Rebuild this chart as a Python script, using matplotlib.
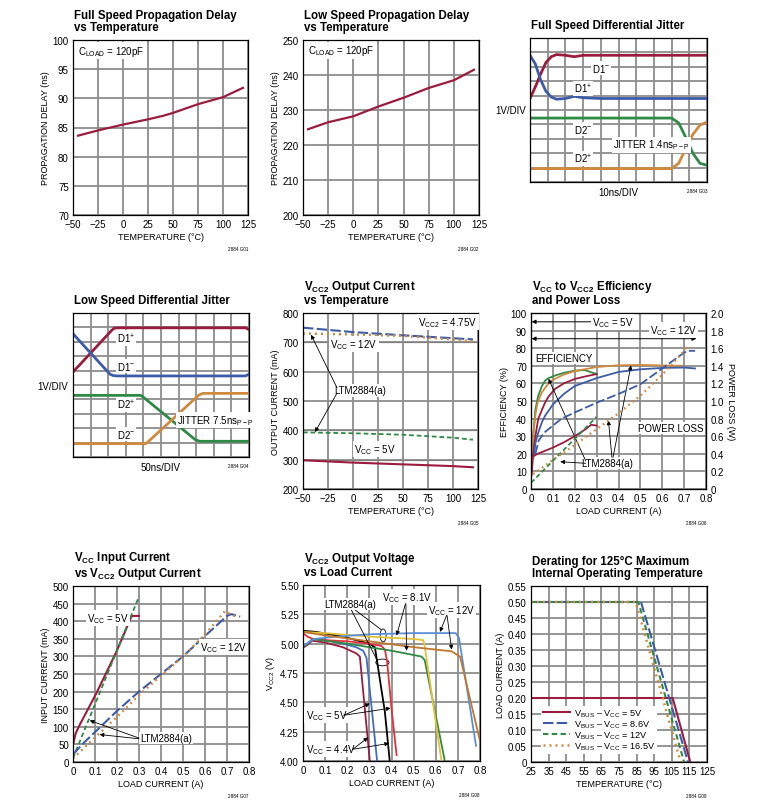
import matplotlib
matplotlib.use('Agg')
import matplotlib.pyplot as plt
from matplotlib import font_manager
from matplotlib.patches import Ellipse
from matplotlib.ticker import FuncFormatter, MultipleLocator

# fuentes: narrow si existe
nombres = {f.name for f in font_manager.fontManager.ttflist}
FONT = 'Liberation Sans Narrow' if 'Liberation Sans Narrow' in nombres else 'Liberation Sans'
TSIZE = 9.5 if FONT == 'Liberation Sans Narrow' else 8.3
plt.rcParams['font.family'] = [FONT, 'DejaVu Sans']
plt.rcParams['mathtext.fontset'] = 'custom'
plt.rcParams['mathtext.rm'] = FONT

# ---------------- datos ----------------
# G01 full speed propagation delay
temp_g01 = [-45, -25, 0, 25, 40, 50, 75, 100, 120]
delay_g01 = [83.6, 84.5, 85.5, 86.4, 87.0, 87.5, 89.0, 90.2, 91.8]

# G02 low speed propagation delay
temp_g02 = [-45, -25, 0, 25, 50, 75, 100, 120]
delay_g02 = [224.5, 226.5, 228.2, 231.0, 233.5, 236.3, 238.5, 241.5]

# G03 full speed jitter (divisiones)
t_g03_d1 = [0, 0.3, 0.6, 0.9, 1.2, 1.5, 2.0, 2.5, 3.0, 4.0, 10]
d1p_g03 = [5.8, 6.6, 7.5, 8.3, 8.7, 8.85, 8.8, 8.7, 8.8, 8.8, 8.8]
d1m_g03 = [8.8, 8.2, 7.1, 6.3, 5.9, 5.75, 5.8, 5.95, 5.85, 5.8, 5.8]
t_g03_d2 = [0, 8.0, 8.4, 8.8, 9.2, 9.6, 10]
d2m_g03 = [4.44, 4.44, 4.1, 3.1, 2.0, 1.3, 1.16]
d2p_g03 = [0.93, 0.93, 1.3, 2.3, 3.3, 3.95, 4.17]

# G04 low speed jitter (divisiones)
t_g04_d1p = [0, 2.2, 2.35, 2.6, 9.8, 10]
d1p_g04 = [5.9, 8.8, 8.95, 8.97, 8.97, 8.85]
t_g04_d1m = [0, 2.1, 2.3, 2.5, 9.8, 10]
d1m_g04 = [8.56, 5.75, 5.65, 5.63, 5.63, 5.75]
t_g04_d2p = [0, 3.85, 4.0, 6.95, 7.2, 10]
d2p_g04 = [4.28, 4.28, 4.15, 1.2, 1.09, 1.09]
t_g04_d2m = [0, 4.15, 4.35, 7.15, 7.4, 10]
d2m_g04 = [0.93, 0.93, 1.15, 4.3, 4.42, 4.42]

# G05 output current vs temperature
temp_g05 = [-50, 0, 50, 100, 120]
i12_g05 = [750, 735, 724, 714, 710]
i12a_g05 = [730, 727, 722, 710, 703]
i5a_g05 = [393, 390, 385, 375, 368]
i5_g05 = [298, 290, 284, 278, 274]

# G06 efficiency / power loss
x_eff_g5a = [0.003, 0.01, 0.02, 0.033, 0.05, 0.064, 0.08, 0.109, 0.15, 0.2, 0.245, 0.3]
eff_g5a = [10, 30, 45, 53, 58.5, 61.5, 63, 64.4, 66, 67.2, 67.6, 65.3]
x_eff_g12a = [0.003, 0.01, 0.02, 0.03, 0.05, 0.08, 0.1, 0.15, 0.2, 0.3, 0.4, 0.5, 0.6, 0.69]
eff_g12a = [10, 30, 42, 49, 55, 60, 62, 65, 67, 69.3, 70.3, 70.5, 70.2, 70]
x_eff_g5 = [0.003, 0.01, 0.02, 0.033, 0.05, 0.064, 0.08, 0.109, 0.15, 0.2, 0.25, 0.3]
eff_g5 = [8, 20, 30, 39.8, 45, 49, 52.5, 56.8, 60, 62.5, 64, 65.3]
x_eff_g12 = [0.015, 0.02, 0.033, 0.05, 0.064, 0.1, 0.15, 0.2, 0.3, 0.4, 0.5, 0.6, 0.7, 0.75]
eff_g12 = [20, 26, 32, 38, 41.5, 48, 54, 58.5, 63, 66.5, 68, 68.8, 69, 68.5]
x_pl_5 = [0, 0.005, 0.01, 0.03, 0.06, 0.1, 0.15, 0.2, 0.25, 0.275, 0.3]
pl_5 = [0.2, 0.34, 0.37, 0.4, 0.43, 0.47, 0.53, 0.6, 0.68, 0.73, 0.72]
x_pl_5a = [0, 0.1, 0.2, 0.3]
pl_5a = [0.07, 0.32, 0.57, 0.82]
x_pl_12 = [0.02, 0.035, 0.06, 0.1, 0.14, 0.2, 0.3, 0.4, 0.5, 0.6, 0.65, 0.7, 0.72, 0.75]
pl_12 = [0.4, 0.55, 0.64, 0.72, 0.8, 0.87, 0.98, 1.08, 1.19, 1.37, 1.46, 1.55, 1.57, 1.57]
x_pl_12a = [0.01, 0.1, 0.2, 0.3, 0.4, 0.5, 0.6, 0.65, 0.7, 0.71]
pl_12a = [0.17, 0.33, 0.5, 0.68, 0.86, 1.06, 1.3, 1.43, 1.57, 1.61]

# G07 input current vs output current
x_in_5 = [0, 0.012, 0.03, 0.106, 0.197, 0.235, 0.265, 0.273, 0.3]
in_5 = [49, 81, 105, 195, 313, 368, 413, 415, 415]
x_in_5a = [0, 0.3]
in_5a = [11, 470]
x_in_12 = [0, 0.05, 0.1, 0.2, 0.3, 0.4, 0.5, 0.6, 0.7, 0.72, 0.76]
in_12 = [22, 55, 85, 145, 200, 250, 300, 358, 415, 420, 413]
x_in_12a = [0, 0.1, 0.2, 0.3, 0.4, 0.5, 0.6, 0.69, 0.74]
in_12a = [10, 70, 128, 190, 245, 300, 362, 428, 413]

# G08 output voltage vs load current
x_v44 = [0, 0.02, 0.042, 0.1, 0.18, 0.241, 0.257, 0.302]
v44 = [4.965, 4.99, 5.025, 5.01, 4.97, 4.917, 4.89, 4.0]
x_v5 = [0, 0.02, 0.045, 0.1, 0.18, 0.24, 0.272, 0.287, 0.335]
v5 = [4.98, 5.0, 5.04, 5.03, 5.0, 4.97, 4.94, 4.88, 4.0]
x_v44a = [0, 0.06, 0.18, 0.3, 0.325, 0.347, 0.37, 0.392]
v44a = [5.11, 5.1, 5.06, 5.0, 4.97, 4.7, 4.42, 4.0]
x_v5a = [0, 0.02, 0.045, 0.1, 0.2, 0.3, 0.355, 0.37, 0.38, 0.4, 0.423]
v5a = [5.09, 5.06, 5.04, 5.03, 5.02, 5.0, 4.98, 4.95, 4.85, 4.45, 4.05]
x_v81 = [0, 0.02, 0.045, 0.2, 0.4, 0.536, 0.55, 0.641]
v81 = [4.97, 5.0, 5.04, 5.0, 4.94, 4.89, 4.86, 4.0]
x_v81a = [0, 0.1, 0.3, 0.5, 0.543, 0.55, 0.626]
v81a = [5.1, 5.09, 5.06, 5.04, 5.03, 4.98, 4.0]
x_v12a = [0, 0.05, 0.15, 0.3, 0.5, 0.69, 0.705, 0.782]
v12a = [4.98, 5.04, 5.06, 5.08, 5.09, 5.09, 5.05, 4.13]
x_v12 = [0, 0.1, 0.3, 0.5, 0.671, 0.71, 0.8]
v12 = [5.1, 5.07, 5.02, 4.97, 4.935, 4.89, 4.17]

# G09 derating
t_d5 = [25, 105.5, 115.5]
i_d5 = [0.2, 0.2, 0.0]
t_d86 = [25, 87.5, 114.2]
i_d86 = [0.5, 0.5, 0.0]
t_d12 = [25, 86.0, 112.0]
i_d12 = [0.5, 0.5, 0.0]
t_d165 = [25, 84.5, 110.0]
i_d165 = [0.5, 0.5, 0.0]
temp_ticks_g09 = [25, 35, 45, 55, 65, 75, 85, 95, 105, 115, 125]

MAROON = '#9c1c3e'
BLUE = '#3d5ca8'
GREEN = '#2f8a45'
ORANGE = '#d08a3e'
GRID = '#8c8c8c'
LONG = (0, (5, 1.6))
DASH = (0, (2.6, 1.6))
DOT = (0, (0.8, 1.6))

W, H = 781, 803
fig = plt.figure(figsize=(W / 100, H / 100), dpi=100)


def eje(x1, y1, x2, y2):
    ax = fig.add_axes([x1 / W, 1 - y2 / H, (x2 - x1) / W, (y2 - y1) / H])
    ax.grid(True, color=GRID, lw=1.3)
    ax.set_axisbelow(True)
    ax.tick_params(length=0, labelsize=7, pad=3)
    for s in ax.spines.values():
        s.set_linewidth(0.9)
    return ax


def titulo(ax, txt):
    ax.annotate(txt, xy=(0, 1), xycoords='axes fraction', xytext=(1, 7),
                textcoords='offset points', ha='left', va='baseline',
                fontsize=TSIZE, fontweight='bold', linespacing=1.05)


def nota(ax, txt):
    ax.annotate(txt, xy=(1, 0), xycoords='axes fraction', xytext=(0, -22),
                textcoords='offset points', ha='right', va='top', fontsize=3.3)


def etiqueta(ax, x, y, txt, **kw):
    ax.text(x, y, txt, fontsize=7, ha='center', va='center',
            bbox=dict(facecolor='white', edgecolor='none', pad=0.8), **kw)


def flecha(ax, xy, xytext):
    ax.annotate('', xy=xy, xytext=xytext,
                arrowprops=dict(arrowstyle='-|>', color='black', lw=0.6,
                                mutation_scale=6, shrinkA=0, shrinkB=0))


cero = lambda fmt: FuncFormatter(lambda v, p: '0' if abs(v) < 1e-9 else fmt % v)
CC = r'V$_{\mathregular{CC}}$'

# ---- G01 ----
ax = eje(73, 41, 248, 216)
ax.plot(temp_g01, delay_g01, color=MAROON, lw=1.6)
ax.set_xlim(-50, 125); ax.set_ylim(70, 100)
ax.xaxis.set_major_locator(MultipleLocator(25)); ax.yaxis.set_major_locator(MultipleLocator(5))
ax.set_xlabel('TEMPERATURE (°C)', fontsize=6.5, labelpad=2)
ax.set_ylabel('PROPAGATION DELAY (ns)', fontsize=6.5, labelpad=2)
ax.text(-45, 98.2, r'C$_{\mathregular{LOAD}}$ = 120pF', fontsize=7, va='center',
        bbox=dict(facecolor='white', edgecolor='none', pad=1))
titulo(ax, 'Full Speed Propagation Delay\nvs Temperature')
nota(ax, '2884 G01')

# ---- G02 ----
ax = eje(303, 41, 479, 216)
ax.plot(temp_g02, delay_g02, color=MAROON, lw=1.6)
ax.set_xlim(-50, 125); ax.set_ylim(200, 250)
ax.xaxis.set_major_locator(MultipleLocator(25)); ax.yaxis.set_major_locator(MultipleLocator(10))
ax.set_xlabel('TEMPERATURE (°C)', fontsize=6.5, labelpad=2)
ax.set_ylabel('PROPAGATION DELAY (ns)', fontsize=6.5, labelpad=2)
ax.text(-45, 247, r'C$_{\mathregular{LOAD}}$ = 120pF', fontsize=7, va='center',
        bbox=dict(facecolor='white', edgecolor='none', pad=1))
titulo(ax, 'Low Speed Propagation Delay\nvs Temperature')
nota(ax, '2884 G02')


def osc(x1, y1, x2, y2):
    ax = eje(x1, y1, x2, y2)
    ax.set_xlim(0, 10); ax.set_ylim(0, 10)
    ax.set_xticks(range(11)); ax.set_yticks(range(11))
    ax.set_xticklabels([]); ax.set_yticklabels([])
    return ax

# ---- G03 ----
ax = osc(530, 39, 707, 183)
ax.plot(t_g03_d1, d1p_g03, color=MAROON, lw=2)
ax.plot(t_g03_d1, d1m_g03, color=BLUE, lw=2)
ax.plot(t_g03_d2, d2m_g03, color=GREEN, lw=2)
ax.plot(t_g03_d2, d2p_g03, color=ORANGE, lw=2)
etiqueta(ax, 4, 7.9, r'D1$^{-}$')
etiqueta(ax, 3, 6.5, r'D1$^{+}$')
etiqueta(ax, 3, 3.7, r'D2$^{-}$')
etiqueta(ax, 3, 1.65, r'D2$^{+}$')
etiqueta(ax, 6.85, 2.6, r'JITTER 1.4ns$_{\mathregular{P-P}}$')
ax.text(-0.02, 0.5, '1V/DIV', transform=ax.transAxes, fontsize=7, ha='right', va='center')
ax.text(0.5, -0.07, '10ns/DIV', transform=ax.transAxes, fontsize=7, ha='center', va='center')
titulo(ax, 'Full Speed Differential Jitter')
ax.annotate('2884 G03', xy=(1, 0), xycoords='axes fraction', xytext=(0, -4),
            textcoords='offset points', ha='right', va='top', fontsize=3.3)

# ---- G04 ----
ax = osc(73, 314, 249, 458)
ax.plot(t_g04_d1p, d1p_g04, color=MAROON, lw=2)
ax.plot(t_g04_d1m, d1m_g04, color=BLUE, lw=2)
ax.plot(t_g04_d2p, d2p_g04, color=GREEN, lw=2)
ax.plot(t_g04_d2m, d2m_g04, color=ORANGE, lw=2)
etiqueta(ax, 3, 8.26, r'D1$^{+}$')
etiqueta(ax, 3, 6.32, r'D1$^{-}$')
etiqueta(ax, 3, 3.63, r'D2$^{+}$')
etiqueta(ax, 3, 1.6, r'D2$^{-}$')
etiqueta(ax, 8.1, 2.55, r'JITTER 7.5ns$_{\mathregular{P-P}}$')
ax.text(-0.03, 0.49, '1V/DIV', transform=ax.transAxes, fontsize=7, ha='right', va='center')
ax.text(0.5, -0.07, '50ns/DIV', transform=ax.transAxes, fontsize=7, ha='center', va='center')
titulo(ax, 'Low Speed Differential Jitter')
ax.annotate('2884 G04', xy=(1, 0), xycoords='axes fraction', xytext=(0, -4),
            textcoords='offset points', ha='right', va='top', fontsize=3.3)

# ---- G05 ----
ax = eje(303, 314, 478, 490)
for yv in (700, 400, 300):
    ax.axhline(yv, color='black', lw=0.8, zorder=0.5)
ax.plot(temp_g05, i12_g05, color=BLUE, lw=1.5, ls=LONG)
ax.plot(temp_g05, i12a_g05, color=ORANGE, lw=1.8, ls=DOT)
ax.plot(temp_g05, i5a_g05, color=GREEN, lw=1.3, ls=DASH)
ax.plot(temp_g05, i5_g05, color=MAROON, lw=1.5)
ax.set_xlim(-50, 125); ax.set_ylim(200, 800)
ax.xaxis.set_major_locator(MultipleLocator(25)); ax.yaxis.set_major_locator(MultipleLocator(100))
ax.set_xlabel('TEMPERATURE (°C)', fontsize=6.5, labelpad=2)
ax.set_ylabel('OUTPUT CURRENT (mA)', fontsize=6.5, labelpad=2)
etiqueta(ax, 95, 769, r'V$_{\mathregular{CC2}}$ = 4.75V')
etiqueta(ax, 1, 695, CC + ' = 12V')
etiqueta(ax, 22, 337, CC + ' = 5V')
etiqueta(ax, 7, 536, 'LTM2884(a)')
flecha(ax, (-42, 726), (-16, 545))
flecha(ax, (-38, 394), (-16, 527))
titulo(ax, r'V$_{\mathregular{CC2}}$ Output Current' + '\nvs Temperature')
nota(ax, '2884 G05')

# ---- G06 ----
ax = eje(531, 314, 706, 490)
ax2 = ax.twinx()
ax.plot(x_eff_g5a, eff_g5a, color=GREEN, lw=1.3)
ax.plot(x_eff_g12a, eff_g12a, color=ORANGE, lw=1.3)
ax.plot(x_eff_g5, eff_g5, color=MAROON, lw=1.3)
ax.plot(x_eff_g12, eff_g12, color=BLUE, lw=1.3)
ax2.plot(x_pl_5, pl_5, color=MAROON, lw=1.3)
ax2.plot(x_pl_5a, pl_5a, color=GREEN, lw=1.3, ls=DASH)
ax2.plot(x_pl_12, pl_12, color=BLUE, lw=1.3, ls=LONG)
ax2.plot(x_pl_12a, pl_12a, color=ORANGE, lw=1.6, ls=DOT)
ax.set_xlim(0, 0.8); ax.set_ylim(0, 100)
ax2.set_ylim(0, 2.0)
ax.xaxis.set_major_locator(MultipleLocator(0.1)); ax.yaxis.set_major_locator(MultipleLocator(10))
ax2.yaxis.set_major_locator(MultipleLocator(0.2))
ax.xaxis.set_major_formatter(cero('%.1f'))
ax2.yaxis.set_major_formatter(cero('%.1f'))
ax2.tick_params(length=0, labelsize=7, pad=3)
ax.set_xlabel('LOAD CURRENT (A)', fontsize=6.5, labelpad=2)
ax.set_ylabel('EFFICIENCY (%)', fontsize=6.5, labelpad=1)
ax2.set_ylabel('POWER LOSS (W)', fontsize=6.5, rotation=270, labelpad=8)
ax.annotate('', xy=(0.003, 95), xytext=(0.3, 95),
            arrowprops=dict(arrowstyle='<|-|>', color='black', lw=0.7, mutation_scale=6,
                            shrinkA=0, shrinkB=0))
ax.annotate('', xy=(0.003, 85.4), xytext=(0.756, 85.4),
            arrowprops=dict(arrowstyle='<|-|>', color='black', lw=0.7, mutation_scale=6,
                            shrinkA=0, shrinkB=0))
etiqueta(ax, 0.376, 95, CC + ' = 5V')
etiqueta(ax, 0.65, 90.1, CC + ' = 12V')
etiqueta(ax, 0.15, 74.4, 'EFFICIENCY')
etiqueta(ax, 0.638, 34.5, 'POWER LOSS')
etiqueta(ax, 0.349, 14.6, 'LTM2884(a)')
flecha(ax, (0.08, 62.6), (0.25, 16))
flecha(ax, (0.134, 15.5), (0.25, 14.6))
flecha(ax, (0.354, 38.9), (0.37, 18))
flecha(ax, (0.457, 70.2), (0.375, 18))
titulo(ax, CC + r' to V$_{\mathregular{CC2}}$ Efficiency' + '\nand Power Loss')
nota(ax, '2884 G06')

# ---- G07 ----
ax = eje(73, 587, 249, 763)
ax.plot(x_in_5, in_5, color=MAROON, lw=1.5)
ax.plot(x_in_5a, in_5a, color=GREEN, lw=1.3, ls=DASH)
ax.plot(x_in_12, in_12, color=BLUE, lw=1.5, ls=LONG)
ax.plot(x_in_12a, in_12a, color=ORANGE, lw=1.7, ls=DOT)
ax.set_xlim(0, 0.8); ax.set_ylim(0, 500)
ax.xaxis.set_major_locator(MultipleLocator(0.1)); ax.yaxis.set_major_locator(MultipleLocator(50))
ax.xaxis.set_major_formatter(cero('%.1f'))
ax.set_xlabel('LOAD CURRENT (A)', fontsize=6.5, labelpad=2)
ax.set_ylabel('INPUT CURRENT (mA)', fontsize=6.5, labelpad=2)
etiqueta(ax, 0.159, 408, CC + ' = 5V')
etiqueta(ax, 0.685, 326, CC + ' = 12V')
etiqueta(ax, 0.424, 68, 'LTM2884(a)')
flecha(ax, (0.076, 118), (0.3, 68))
flecha(ax, (0.121, 78), (0.3, 66))
titulo(ax, CC + ' Input Current\n' + r'vs V$_{\mathregular{CC2}}$ Output Current')
nota(ax, '2884 G07')

# ---- G08 ----
ax = eje(303, 586, 480, 762)
ax.plot(x_v44, v44, color=MAROON, lw=1.3)
ax.plot(x_v5, v5, color='#3f6fc4', lw=1.3)
ax.plot(x_v44a, v44a, color='black', lw=1.3)
ax.plot(x_v5a, v5a, color='#e8303a', lw=1.3)
ax.plot(x_v81, v81, color=GREEN, lw=1.3)
ax.plot(x_v81a, v81a, color='#e2c237', lw=1.3)
ax.plot(x_v12a, v12a, color='#5b8fd6', lw=1.3)
ax.plot(x_v12, v12, color='#c0782e', lw=1.3)
ax.set_xlim(0, 0.8); ax.set_ylim(4.0, 5.5)
ax.xaxis.set_major_locator(MultipleLocator(0.1)); ax.yaxis.set_major_locator(MultipleLocator(0.25))
ax.xaxis.set_major_formatter(cero('%.1f'))
ax.yaxis.set_major_formatter(FuncFormatter(lambda v, p: '%.2f' % v))
ax.set_xlabel('LOAD CURRENT (A)', fontsize=6.5, labelpad=2)
ax.set_ylabel(r'V$_{\mathregular{CC2}}$ (V)', fontsize=6.5, labelpad=2)
ax.add_patch(Ellipse((0.362, 5.07), 0.027, 0.11, fill=False, color='black', lw=0.6))
ax.add_patch(Ellipse((0.359, 4.84), 0.06, 0.057, fill=False, color='black', lw=0.6))
ax.plot([0.22, 0.353], [5.31, 5.12], color='black', lw=0.6)
ax.plot([0.215, 0.335], [5.30, 4.86], color='black', lw=0.6)
etiqueta(ax, 0.215, 5.34, 'LTM2884(a)')
etiqueta(ax, 0.47, 5.40, CC + ' = 8.1V')
etiqueta(ax, 0.671, 5.29, CC + ' = 12V')
etiqueta(ax, 0.106, 4.39, CC + ' = 5V')
etiqueta(ax, 0.128, 4.10, CC + ' = 4.4V')
flecha(ax, (0.423, 5.07), (0.463, 5.34))
flecha(ax, (0.468, 4.94), (0.465, 5.34))
flecha(ax, (0.619, 5.10), (0.649, 5.24))
flecha(ax, (0.672, 4.95), (0.651, 5.24))
flecha(ax, (0.302, 4.49), (0.185, 4.39))
flecha(ax, (0.396, 4.45), (0.185, 4.39))
flecha(ax, (0.294, 4.2), (0.225, 4.10))
flecha(ax, (0.389, 4.15), (0.225, 4.10))
titulo(ax, r'V$_{\mathregular{CC2}}$ Output Voltage' + '\nvs Load Current')
nota(ax, '2884 G08')

# ---- G09 ----
ax = eje(531, 587, 707, 763)
BUS = r'V$_{\mathregular{BUS}}$ – ' + CC
ax.plot(t_d5, i_d5, color=MAROON, lw=1.5, label=BUS + ' = 5V')
ax.plot(t_d86, i_d86, color=BLUE, lw=1.5, ls=LONG, label=BUS + ' = 8.6V')
ax.plot(t_d12, i_d12, color=GREEN, lw=1.5, ls=DASH, label=BUS + ' = 12V')
ax.plot(t_d165, i_d165, color=ORANGE, lw=1.8, ls=DOT, label=BUS + ' = 16.5V')
ax.set_xlim(25, 125); ax.set_ylim(0, 0.55)
ax.set_xticks(temp_ticks_g09); ax.yaxis.set_major_locator(MultipleLocator(0.05))
ax.yaxis.set_major_formatter(cero('%.2f'))
ax.set_xlabel('TEMPERATURE (°C)', fontsize=6.5, labelpad=2)
ax.set_ylabel('LOAD CURRENT (A)', fontsize=6.5, labelpad=2)
leg = ax.legend(loc='lower left', bbox_to_anchor=(0.03, 0.02), fontsize=6.6, frameon=True,
                handlelength=3.0, labelspacing=-0.05, borderpad=0.2, handletextpad=0.4,
                fancybox=False, framealpha=1)
leg.get_frame().set_edgecolor('none')
titulo(ax, 'Derating for 125°C Maximum\nInternal Operating Temperature')
nota(ax, '2884 G09')

fig.savefig('out.png', dpi=100)
